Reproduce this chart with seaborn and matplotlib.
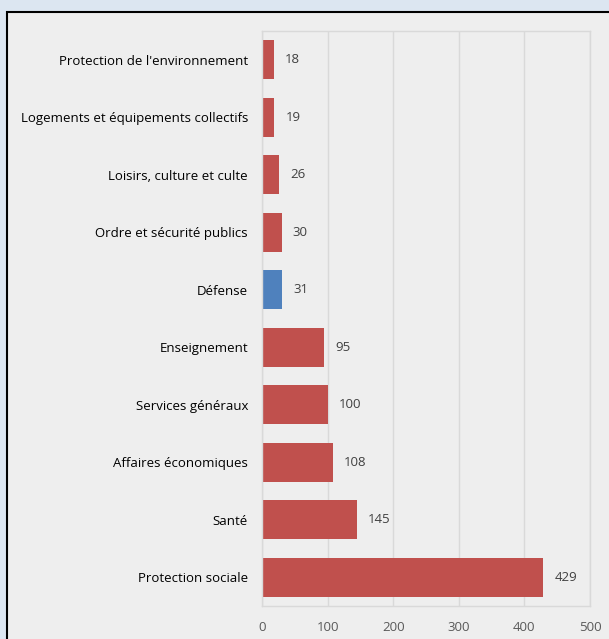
import matplotlib
matplotlib.use("Agg")
import matplotlib.pyplot as plt
import seaborn as sns
import pandas as pd
from matplotlib.patches import Rectangle

# Données (de haut en bas)
categories = [
    "Protection de l'environnement",
    "Logements et équipements collectifs",
    "Loisirs, culture et culte",
    "Ordre et sécurité publics",
    "Défense",
    "Enseignement",
    "Services généraux",
    "Affaires économiques",
    "Santé",
    "Protection sociale",
]
values = [18, 19, 26, 30, 31, 95, 100, 108, 145, 429]
highlight = "Défense"

RED = "#c0504d"
BLUE = "#4f81bd"

sns.set_style("white")
plt.rcParams['font.family'] = ['Open Sans', 'DejaVu Sans']

df = pd.DataFrame({"Catégorie": categories, "Valeur": values})
palette = {c: (BLUE if c == highlight else RED) for c in categories}

W, H = 609, 639
fig = plt.figure(figsize=(W / 100, H / 100), dpi=100)
fig.patch.set_facecolor("#dce6f1")
# cadre intérieur gris avec bordure noire
cadre = Rectangle((7 / W, -0.01), 1, 1.01 - 12 / H, transform=fig.transFigure,
                  facecolor="#eeeeee", edgecolor="black", linewidth=1.5, zorder=-5)
fig.add_artist(cadre)

ax = fig.add_axes([262 / W, 1 - 606 / H, (590 - 262) / W, (606 - 31) / H])
ax.set_facecolor("#eeeeee")
sns.barplot(data=df, x="Valeur", y="Catégorie", hue="Catégorie", palette=palette,
            order=categories, legend=False, width=0.68, saturation=1,
            linewidth=0, ax=ax)

for i, v in enumerate(values):
    ax.annotate(str(v), (v, i), xytext=(8, 0), textcoords="offset points",
                va="center", ha="left", fontsize=9.5, color="#404040")

ax.set_xlim(0, 500)
ax.set_ylim(len(categories) - 0.5, -0.5)
ax.set_xticks(range(0, 501, 100))
ax.set_xlabel("")
ax.set_ylabel("")
ax.grid(axis="x", color="#d9d9d9", linewidth=1)
ax.set_axisbelow(True)
for s in ax.spines.values():
    s.set_color("#d9d9d9")
    s.set_linewidth(1)
ax.tick_params(axis="x", length=0, pad=10.5, labelsize=9.5, labelcolor="#595959")
ax.tick_params(axis="y", length=0, pad=10, labelsize=9.5, labelcolor="black")

fig.savefig("out.png", dpi=100, facecolor=fig.get_facecolor())
